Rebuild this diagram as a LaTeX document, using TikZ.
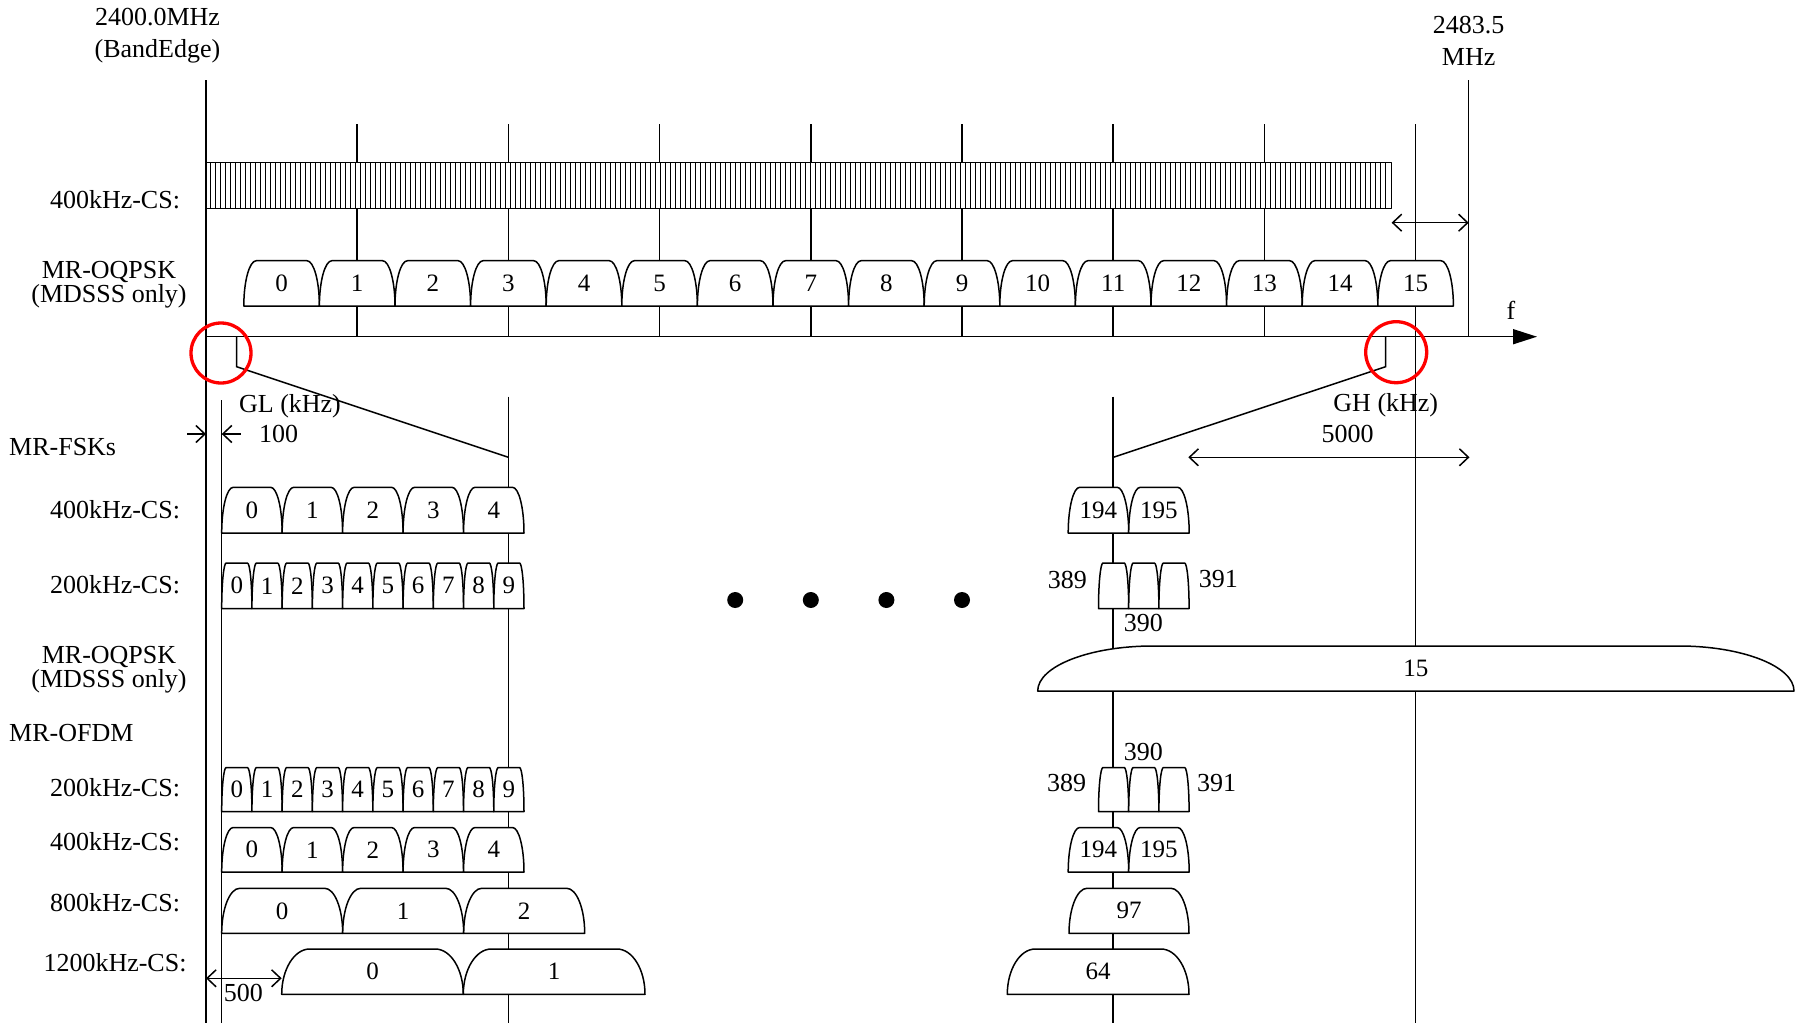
\documentclass[tikz,border=0pt]{standalone}
\usepackage{fontspec}
\setmainfont{Liberation Serif}
\usetikzlibrary{arrows.meta}
% #1 left, #2 right, #3 top, #4 bottom, #5 side width, #6 label, #7 name
\newcommand\chan[7]{%
  \path[chbox] (#1,#4) .. controls (#1,{#4-0.55*(#4-#3)}) and ({#1+0.45*#5},#3) .. ({#1+#5},#3)
    -- ({#2-#5},#3) .. controls ({#2-0.45*#5},#3) and (#2,{#4-0.55*(#4-#3)}) .. (#2,#4) -- cycle;
  \node[numlab] (#7) at ({(#1+#2)/2},{(#3+#4)/2}) {#6};}
\begin{document}
\begin{tikzpicture}[x=1pt,y=-1pt,
  every node/.style={inner sep=0pt, font=\fontsize{26}{24}\selectfont},
  ln/.style={line width=1.5pt},
  chbox/.style={draw, fill=white, line width=1.5pt, line join=round},
  numlab/.style={font=\fontsize{25}{25}\selectfont},
  dimarrow/.style={line width=1.5pt, {Straight Barb[length=9pt,width=17pt]}-{Straight Barb[length=9pt,width=17pt]}},
  onearrow/.style={line width=1.5pt, -{Straight Barb[length=9pt,width=17pt]}},
  ring/.style={draw=red, line width=3.3pt},
  lab/.style={align=center}]
\useasboundingbox (0,0) rectangle (1802,1023);

% ---------- vertical lines ----------
\draw[ln] (206,80) -- (206,1023);
\draw[ln] (1468.7,80) -- (1468.7,336.7);
\foreach \k in {1,3,...,13} {
  \draw[ln] ({281.6+75.6*\k},124) -- ({281.6+75.6*\k},336.7);
}
\draw[ln] (1415.6,124) -- (1415.6,1023);
\draw[ln] (221.7,400) -- (221.7,1023);
\draw[ln] (508.4,396.7) -- (508.4,1023);
\draw[ln] (1113.2,396.7) -- (1113.2,1023);

% ---------- top labels ----------
\node (be1) at (157.5,17) {2400.0MHz};
\node (be2) at (157.5,51) {(BandEdge)};
\node (ue1) at (1468.7,25) {2483.5};
\node (ue2) at (1468.7,57) {MHz};

% ---------- comb 400kHz ----------
\draw[chbox, line width=1.3pt] (206,162.7) rectangle (1391.6,208.3);
\foreach \i in {1,...,236} {
  \draw[line width=1.2pt] ({205.5+\i*5},162.7) -- ++(0,45.6);
}
\node (lc1) at (115,200) {400kHz-CS:};
\draw[dimarrow] (1391.6,222.7) -- (1468.7,222.7);

% ---------- MR-OQPSK top row ----------
\node[lab] (lq1) at (109,284.5) {MR-OQPSK\\(MDSSS only)};
\foreach \k in {0,...,15} {
  \pgfmathsetmacro\lx{243.8+75.6*\k}
  \pgfmathsetmacro\rx{\lx+75.6}
  \chan{\lx}{\rx}{260.7}{306}{12.5}{\k}{t\k}
}

% ---------- axis ----------
\draw[ln, -{Triangle[length=24pt,width=15pt]}] (206,336.7) -- (1537,336.7);
\node (fl) at (1511,310) {f};

% ---------- zoom links ----------
\draw[ln] (236.7,336.7) -- (236.7,366.7) -- (508.4,457.3);
\draw[ln] (1385.7,336.7) -- (1385.7,366.7) -- (1113.2,457.3);

% ---------- guard labels ----------
\node (gl) at (290,406) {GL (kHz)};
\node (gl1) at (278.5,434) {100};
\draw[onearrow] (187,434) -- (206,434);
\draw[onearrow] (240.7,434) -- (221.7,434);
\node (gh) at (1385.8,405) {GH (kHz)};
\node (gh1) at (1347.5,434) {5000};
\draw[dimarrow] (1188.3,457.3) -- (1469.5,457.3);

% ---------- MR-FSK ----------
\node[anchor=west] (lfsk) at (9,447) {MR-FSKs};
\node (lc2) at (115,510) {400kHz-CS:};
\foreach \k in {0,...,4} {
  \pgfmathsetmacro\lx{221.7+60.46*\k}
  \pgfmathsetmacro\rx{\lx+60.46}
  \chan{\lx}{\rx}{487.3}{533}{11.5}{\k}{fa\k}
}
\chan{1068.2}{1128.7}{487.3}{533}{11.5}{194}{fa194}
\chan{1128.7}{1189.2}{487.3}{533}{11.5}{195}{fa195}

\node (lc3) at (115,585) {200kHz-CS:};
\foreach \k in {0,...,9} {
  \pgfmathsetmacro\lx{221.7+30.23*\k}
  \pgfmathsetmacro\rx{\lx+30.23}
  \chan{\lx}{\rx}{563}{608.5}{4.5}{\k}{fb\k}
}
\chan{1098.5}{1128.7}{563}{608.5}{4.5}{}{fb389}
\chan{1128.7}{1158.9}{563}{608.5}{4.5}{}{fb390}
\chan{1158.9}{1189.1}{563}{608.5}{4.5}{}{fb391}
\node (n389a) at (1067.3,579.5) {389};
\node (n391a) at (1218.3,579.5) {391};
\node (n390a) at (1143.3,623.3) {390};

% dots
\foreach \k in {6,7,8,9} {
  \fill ({281.6+75.6*\k},600) circle (8);
}

% ---------- MR-OQPSK lower ----------
\node[lab] (lq2) at (109,669.5) {MR-OQPSK\\(MDSSS only)};
\chan{1037.7}{1794}{646}{691}{115}{15}{q15}

% ---------- MR-OFDM ----------
\node[anchor=west] (lofdm) at (9,733) {MR-OFDM};
\node (lc4) at (115,788) {200kHz-CS:};
\foreach \k in {0,...,9} {
  \pgfmathsetmacro\lx{221.7+30.23*\k}
  \pgfmathsetmacro\rx{\lx+30.23}
  \chan{\lx}{\rx}{767.5}{811.5}{4.5}{\k}{ob\k}
}
\chan{1098.5}{1128.7}{767.5}{811.5}{4.5}{}{ob389}
\chan{1128.7}{1158.9}{767.5}{811.5}{4.5}{}{ob390}
\chan{1158.9}{1189.1}{767.5}{811.5}{4.5}{}{ob391}
\node (n390b) at (1143.3,751.7) {390};
\node (n389b) at (1066.7,783.3) {389};
\node (n391b) at (1216.7,783.3) {391};

\node (lc5) at (115,842) {400kHz-CS:};
\foreach \k in {0,...,4} {
  \pgfmathsetmacro\lx{221.7+60.46*\k}
  \pgfmathsetmacro\rx{\lx+60.46}
  \chan{\lx}{\rx}{827.5}{872}{11.5}{\k}{oa\k}
}
\chan{1068.2}{1128.7}{827.5}{872}{11.5}{194}{oa194}
\chan{1128.7}{1189.2}{827.5}{872}{11.5}{195}{oa195}

\node (lc6) at (115,903) {800kHz-CS:};
\foreach \k in {0,...,2} {
  \pgfmathsetmacro\lx{221.7+121*\k}
  \pgfmathsetmacro\rx{\lx+121}
  \chan{\lx}{\rx}{888.3}{933.3}{18}{\k}{oc\k}
}
\chan{1069}{1189}{888.3}{933.3}{18}{97}{oc97}

\node (lc7) at (115,963) {1200kHz-CS:};
\chan{281.7}{463.3}{949}{994.3}{28}{0}{od0}
\chan{463.3}{645}{949}{994.3}{28}{1}{od1}
\chan{1007.3}{1189}{949}{994.3}{28}{64}{od64}
\draw[dimarrow] (206,978.3) -- (281.7,978.3);
\node (n500) at (243.3,993.3) {500};

% ---------- red rings ----------
\draw[ring] (221,353) circle (30);
\draw[ring] (1396.2,352.2) circle (30.5);
\end{tikzpicture}
\end{document}
